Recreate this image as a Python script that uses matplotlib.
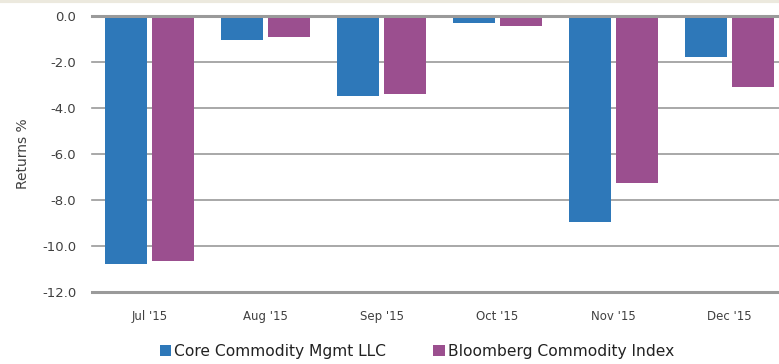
import numpy as np
import matplotlib.pyplot as plt

months = ["Jul '15", "Aug '15", "Sep '15", "Oct '15", "Nov '15", "Dec '15"]
core = [-10.78, -1.04, -3.48, -0.30, -8.96, -1.78]
bcom = [-10.65, -0.91, -3.39, -0.43, -7.26, -3.09]
yticks = [0, -2, -4, -6, -8, -10, -12]

blue = '#2E78B9'
purple = '#9B4F8F'
txt = '#404040'

plt.rcParams['font.family'] = ['DejaVu Sans']

fig = plt.figure(figsize=(7.79, 3.64), dpi=100)
ax = fig.add_axes([91.5 / 779, 72 / 364, 696 / 779, 276 / 364])

x = np.arange(len(months))
w = 0.36
ax.bar(x - 0.2, core, width=w, color=blue, label='Core Commodity Mgmt LLC', zorder=3)
ax.bar(x + 0.2, bcom, width=w, color=purple, label='Bloomberg Commodity Index', zorder=3)

ax.set_xlim(-0.5, 5.5)
ax.set_ylim(-12, 0)
ax.set_yticks(yticks)
ax.set_yticklabels(['%.1f' % v for v in yticks], fontsize=9.5, color=txt)
ax.set_xticks(x)
ax.set_xticklabels(months, fontsize=8.5, color=txt)
ax.tick_params(length=0, axis='both')
ax.tick_params(axis='y', pad=11)
ax.tick_params(axis='x', pad=13)

# gridlines; the zero line and the floor are heavier
for v in yticks:
    lw = 2.2 if v in (0, -12) else 1.2
    ax.axhline(v, color='#9A9A9A', lw=lw, zorder=4 if v == 0 else 2, clip_on=False)

for s in ax.spines.values():
    s.set_visible(False)

ax.set_ylabel('Returns %', fontsize=10, color=txt)
ax.yaxis.set_label_coords(-0.088, 0.5)

fig.legend(loc='lower center', bbox_to_anchor=(0.535, -0.025), ncol=2, frameon=False,
           fontsize=11.2, handlelength=0.75, handleheight=0.75, handletextpad=0.2,
           columnspacing=3.0, labelcolor='#222222')

fig.add_artist(plt.Line2D([0, 1], [0.996, 0.996], transform=fig.transFigure,
                          color='#ECE9DE', lw=3))

fig.savefig('out.png', dpi=100)
